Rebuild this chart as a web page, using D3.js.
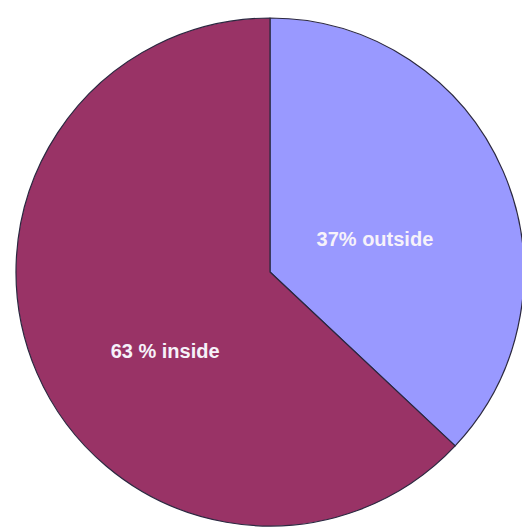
<!DOCTYPE html>
<html>
<head>
<meta charset="utf-8">
<script src="https://cdn.jsdelivr.net/npm/d3@7"></script>
<style>
  html, body { margin: 0; padding: 0; background: #fff; }
  svg { display: block; }
</style>
</head>
<body>
<div id="chart"></div>
<script>
// slice data, clockwise from 12 o'clock
const categories = ["outside", "inside"];
const shares = [37, 63];
const labels = ["37% outside", "63 % inside"];
const colours = ["#9999ff", "#993366"];

const width = 522, height = 527;
const cx = 270, cy = 272, radius = 254;

// label nudges (px) away from plain centroid
const labelShift = [[0, 12], [0, 34]];

let svg = d3.select("#chart")
  .append("svg")
  .attr("width", width)
  .attr("height", height);

let g = svg.append("g")
  .attr("transform", `translate(${cx},${cy})`);

let pie = d3.pie().sort(null).value(d => d.value);
let data = pie(categories.map((c, i) => ({ name: c, value: shares[i], label: labels[i], colour: colours[i] })));

let arc = d3.arc().innerRadius(0).outerRadius(radius);
let labelArc = d3.arc().innerRadius(0).outerRadius(radius * 0.9);

g.selectAll("path.slice")
  .data(data)
  .enter().append("path")
  .attr("class", "slice")
  .attr("d", arc)
  .style("fill", d => d.data.colour)
  .style("stroke", "#2b2840")
  .style("stroke-width", 1.2)
  .style("stroke-linejoin", "round");

g.selectAll("text.label")
  .data(data)
  .enter().append("text")
  .attr("class", "label")
  .attr("transform", (d, i) => {
    let c = labelArc.centroid(d);
    return `translate(${c[0] + labelShift[i][0]},${c[1] + labelShift[i][1]})`;
  })
  .attr("text-anchor", "middle")
  .attr("dominant-baseline", "central")
  .style("font-family", "'Liberation Sans', Arial, sans-serif")
  .style("font-size", "20px")
  .style("font-weight", "bold")
  .style("fill", "#f6f2fa")
  .text(d => d.data.label);
</script>
</body>
</html>
